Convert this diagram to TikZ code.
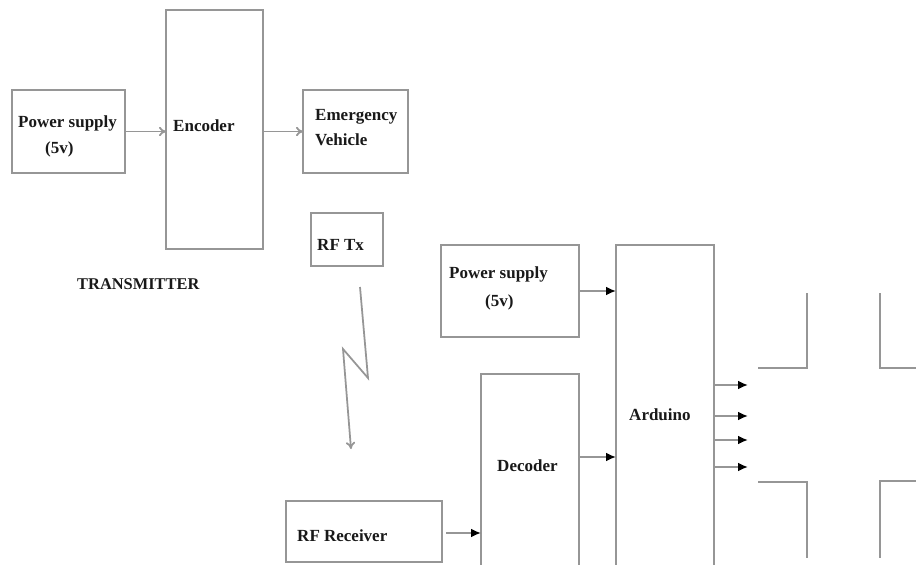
\documentclass[tikz,border=0pt]{standalone}
\usepackage{fontspec}
\setmainfont{Liberation Serif}
\usetikzlibrary{arrows.meta,fit,calc}
\definecolor{linegray}{RGB}{150,150,150}
\definecolor{txt}{RGB}{25,25,25}
\tikzset{
  box/.style={draw=linegray,line width=1.4pt,inner sep=0pt,outer sep=0pt},
  lbl/.style={anchor=west,inner sep=0pt,text=txt,font=\bfseries\fontsize{14.5}{17}\selectfont},
  garrow/.style={draw=linegray,line width=1.5pt,-{To[length=6pt,width=8pt]}},
  barrow/.style={draw=linegray,line width=1.5pt,-{Latex[black,length=8.5pt,width=7.5pt]}},
  road/.style={draw=linegray,line width=1.6pt},
}
\begin{document}
\begin{tikzpicture}[x=0.03cm,y=-0.03cm]
\clip (0,0) rectangle (916,565);
\fill[white] (0,0) rectangle (916,565);
% transmitter
\node[box,fit={(12,90) (125,173)}] (ps1) {};
\node[box,fit={(166,10) (263,249)}] (enc) {};
\node[box,fit={(303,90) (408,173)}] (ev) {};
\node[box,fit={(311,213) (383,266)}] (rftx) {};
\node[lbl] (t1) at (18,123) {Power supply};
\node[lbl] (t2) at (45,149) {(5v)};
\node[lbl] (t3) at (173,126) {Encoder};
\node[lbl] (t4) at (315,117) {Emergency};
\node[lbl] (t5) at (315,139.5) {Vehicle};
\node[lbl] (t6) at (317,245) {RF Tx};
\node[lbl,font=\bfseries\fontsize{14}{17}\selectfont] (t7) at (77,284.5) {TRANSMITTER};
\draw[garrow] (ps1.east) -- (ps1.east -| enc.west);
\draw[garrow] (enc.east |- ev.west) -- (ev.west);
% wireless link
\coordinate (z1) at (360,287);
\coordinate (z2) at (368,378);
\coordinate (z3) at (343,349);
\coordinate (z4) at (351,449);
\draw[garrow] (z1) -- (z2) -- (z3) -- (z4);
% receiver
\node[box,fit={(441,245) (579,337)}] (ps2) {};
\node[box,fit={(616,245) (714,620)}] (ard) {};
\node[box,fit={(481,374) (579,620)}] (dec) {};
\node[box,fit={(286,501) (442,562)}] (rfr) {};
\node[lbl] (r1) at (449,274) {Power supply};
\node[lbl] (r2) at (485,302) {(5v)};
\node[lbl] (r3) at (629,415) {Arduino};
\node[lbl] (r4) at (497,466) {Decoder};
\node[lbl] (r5) at (297,536) {RF Receiver};
\draw[barrow] (ps2.east) -- (ps2.east -| ard.west);
\draw[barrow] ($(dec.north east)+(0,83)$) -- ($(ard.west |- dec.north)+(0,83)$);
\draw[barrow,shorten <=3.5pt] (rfr.east |- 0,533) -- (dec.west |- 0,533);
% outputs
\coordinate (o1) at (748,385);
\coordinate (o2) at (748,416);
\coordinate (o3) at (748,440);
\coordinate (o4) at (748,467);
\foreach \o in {o1,o2,o3,o4} \draw[barrow] (ard.east |- \o) -- (\o);
% road junction
\draw[road] (807,293) -- (807,368) -- (758,368);
\draw[road] (880,293) -- (880,368) -- (920,368);
\draw[road] (758,482) -- (807,482) -- (807,558);
\draw[road] (920,481) -- (880,481) -- (880,558);
\end{tikzpicture}
\end{document}
